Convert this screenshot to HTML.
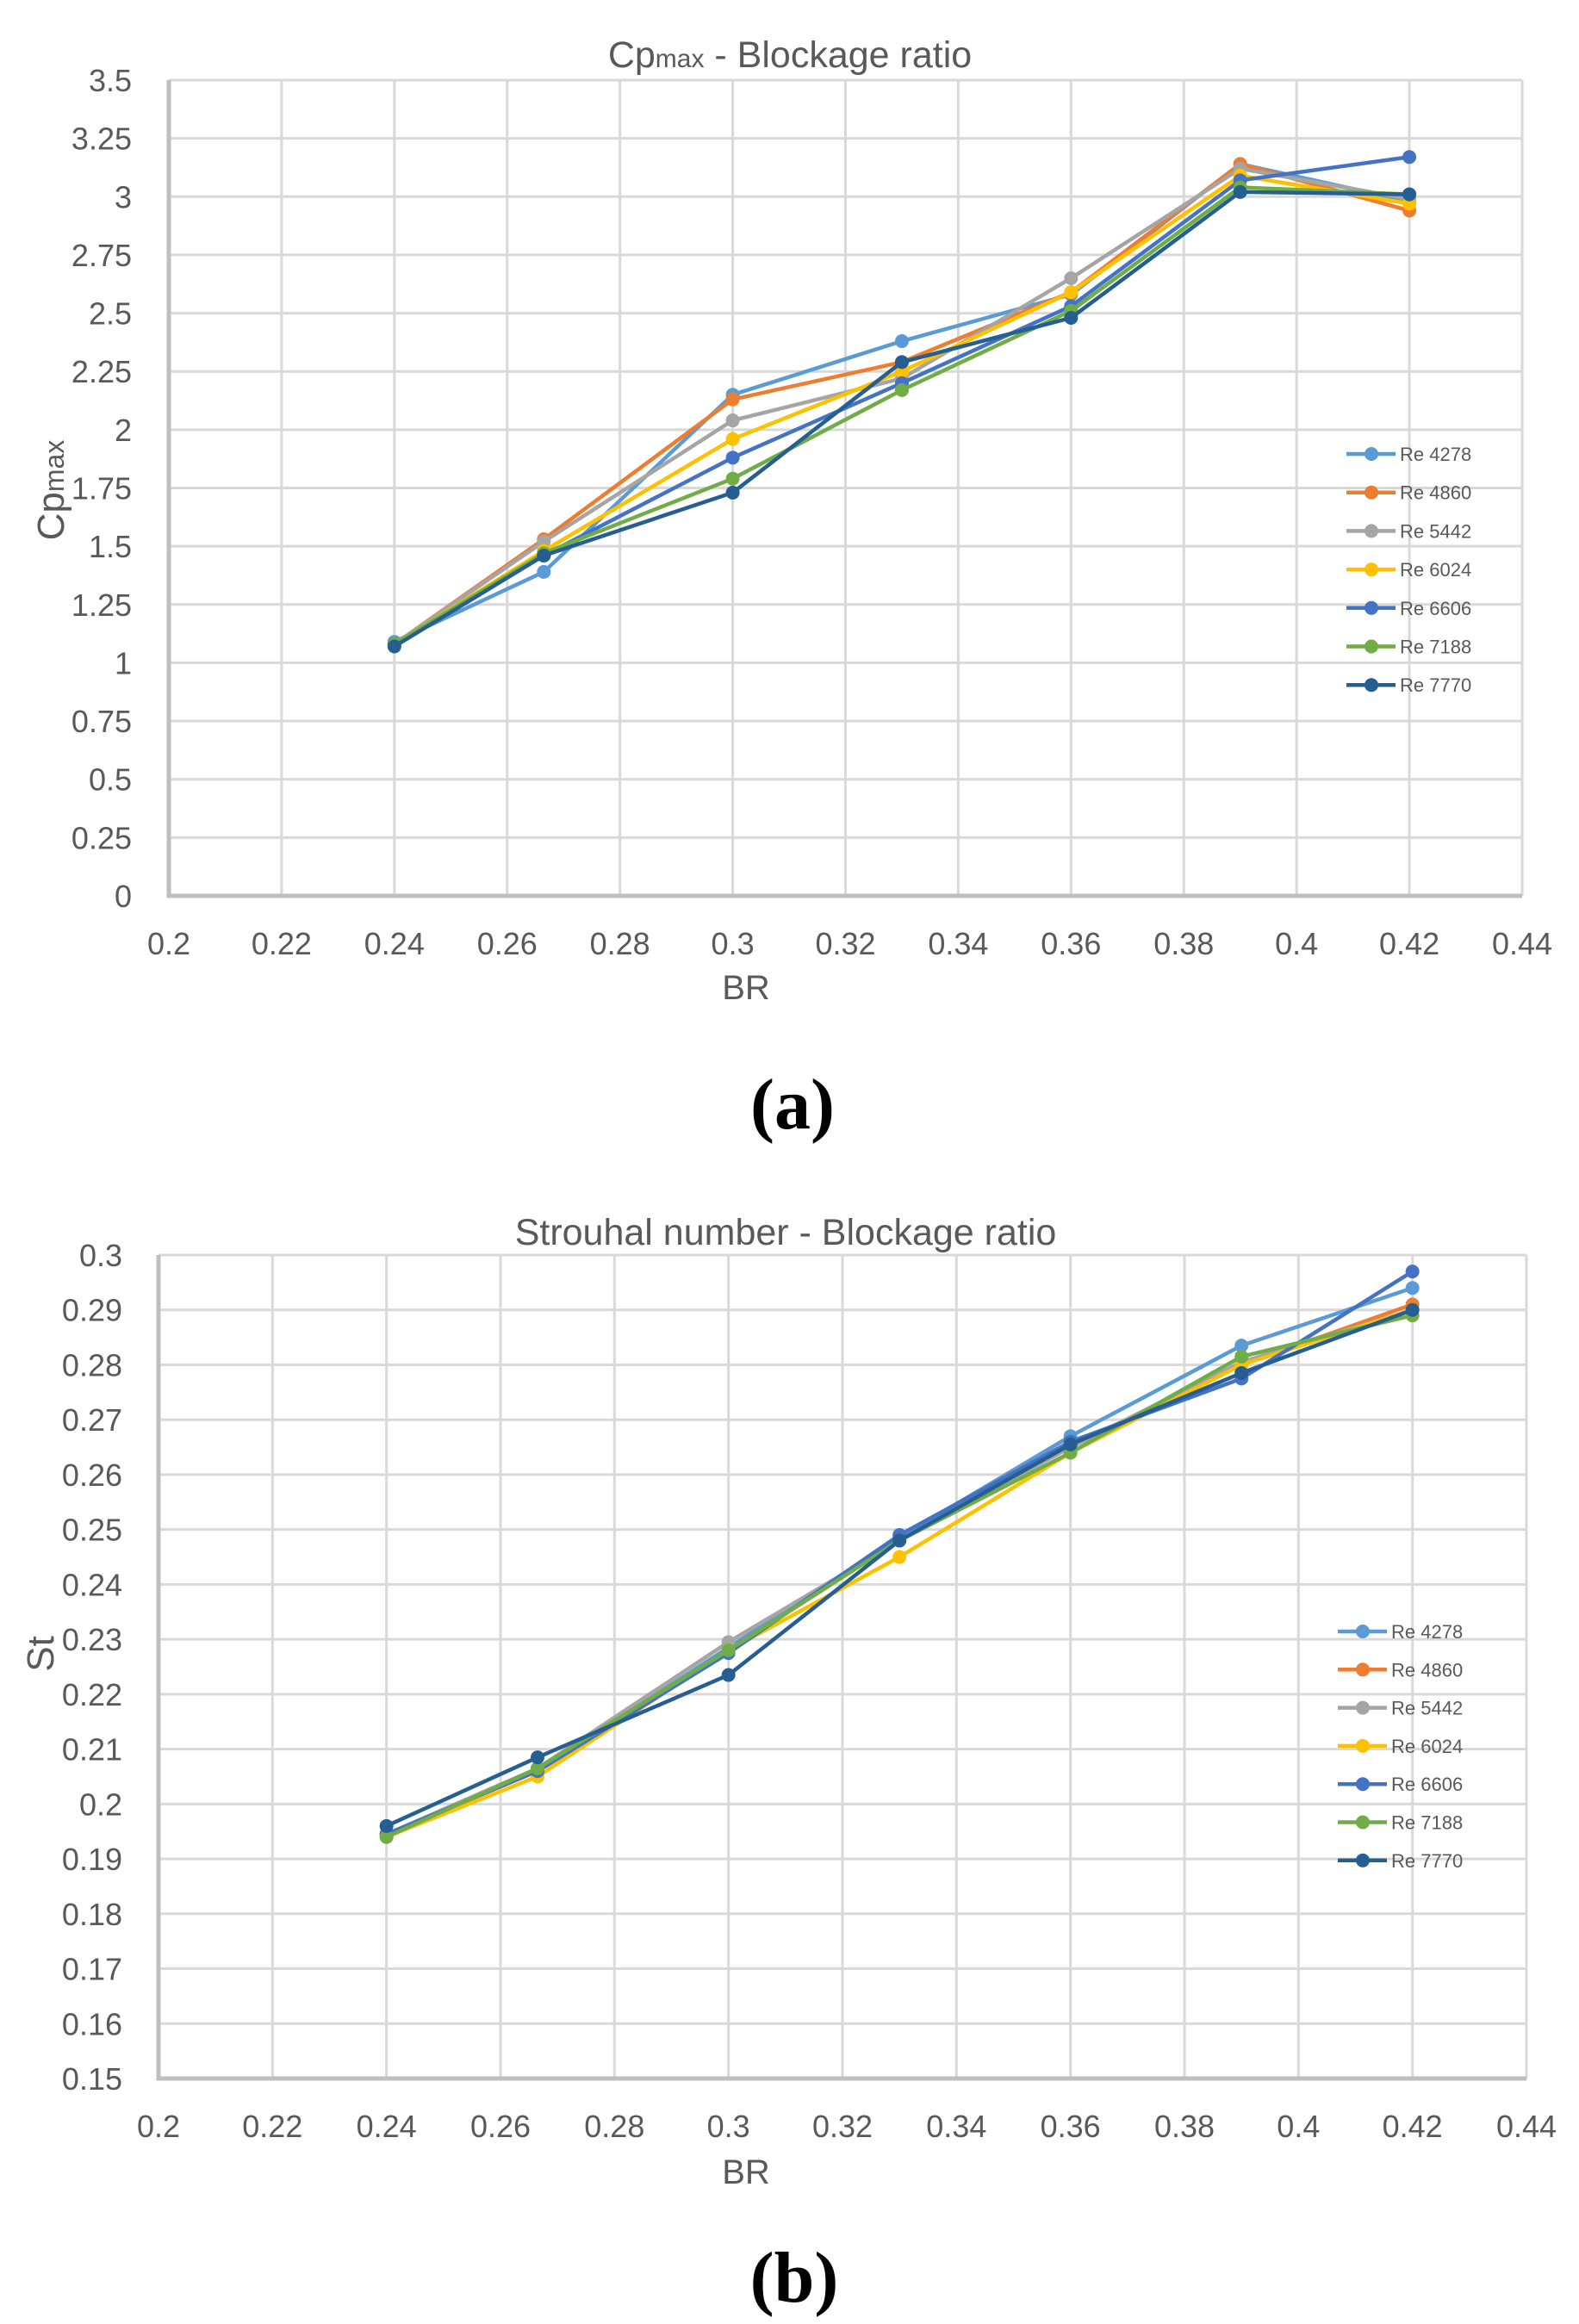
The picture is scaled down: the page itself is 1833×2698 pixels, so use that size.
<!DOCTYPE html>
<html><head><meta charset="utf-8"><style>
html,body{margin:0;padding:0;background:#fff;}
svg{display:block;}
text{font-family:"Liberation Sans",sans-serif;fill:#595959;}
</style></head><body>
<svg id="svg" width="1833" height="2698" viewBox="0 0 1833 2698" xmlns="http://www.w3.org/2000/svg">
<g id="chartA"></g>
<g id="chartB"></g>
<text x="920" y="1310" font-size="84" font-weight="bold" text-anchor="middle" style="font-family:'Liberation Serif',serif;fill:#000">(a)</text>
<text x="922" y="2672" font-size="84" font-weight="bold" text-anchor="middle" style="font-family:'Liberation Serif',serif;fill:#000">(b)</text>
</svg>
<script>
const xValues = [0.24, 0.2665, 0.3, 0.33, 0.36, 0.39, 0.42];
const seriesNames = ["Re 4278","Re 4860","Re 5442","Re 6024","Re 6606","Re 7188","Re 7770"];
const seriesColors = ["#5B9BD5","#ED7D31","#A5A5A5","#FFC000","#4472C4","#70AD47","#255E91"];
const xTicks = ["0.2","0.22","0.24","0.26","0.28","0.3","0.32","0.34","0.36","0.38","0.4","0.42","0.44"];
const cpTicks = ["0","0.25","0.5","0.75","1","1.25","1.5","1.75","2","2.25","2.5","2.75","3","3.25","3.5"];
const stTicks = ["0.15","0.16","0.17","0.18","0.19","0.2","0.21","0.22","0.23","0.24","0.25","0.26","0.27","0.28","0.29","0.3"];
const cp4278 = [1.09,1.39,2.15,2.38,2.58,3.14,2.98];
const cp4860 = [1.08,1.53,2.13,2.29,2.59,3.14,2.94];
const cp5442 = [1.08,1.52,2.04,2.22,2.65,3.12,2.99];
const cp6024 = [1.08,1.48,1.96,2.25,2.59,3.09,2.97];
const cp6606 = [1.08,1.46,1.88,2.20,2.53,3.07,3.17];
const cp7188 = [1.08,1.47,1.79,2.17,2.51,3.04,3.01];
const cp7770 = [1.07,1.46,1.73,2.29,2.48,3.02,3.01];
const st4278 = [0.1945,0.206,0.2285,0.2485,0.267,0.2835,0.294];
const st4860 = [0.1945,0.206,0.228,0.248,0.265,0.280,0.291];
const st5442 = [0.1945,0.2065,0.2295,0.248,0.265,0.2805,0.290];
const st6024 = [0.194,0.205,0.228,0.245,0.264,0.280,0.290];
const st6606 = [0.1945,0.206,0.2275,0.249,0.266,0.2775,0.297];
const st7188 = [0.194,0.2065,0.228,0.248,0.264,0.2815,0.289];
const st7770 = [0.196,0.2085,0.2235,0.248,0.2655,0.2785,0.290];
const cpSeries = [cp4278,cp4860,cp5442,cp6024,cp6606,cp7188,cp7770];
const stSeries = [st4278,st4860,st5442,st6024,st6606,st7188,st7770];

const NS="http://www.w3.org/2000/svg";
function mk(parent,tag,attrs,txt){const e=document.createElementNS(NS,tag);for(const k in attrs)e.setAttribute(k,attrs[k]);if(txt!==undefined)e.textContent=txt;parent.appendChild(e);return e;}

function drawChart(g,cfg){
  const sx=v=>cfg.L+(v-0.2)/0.24*(cfg.R-cfg.L);
  const sy=v=>cfg.B-(v-cfg.ymin)/(cfg.ymax-cfg.ymin)*(cfg.B-cfg.T);
  xTicks.forEach((t,i)=>{const x=sx(parseFloat(t));
    const l=mk(g,'line',{x1:x,x2:x,y1:cfg.T,y2:cfg.B,stroke:'#d9d9d9','stroke-width':3});
    
    
    const tx=mk(g,'text',{x:x,y:cfg.xlabY,'font-size':36,'text-anchor':'middle'},t);
    
    
  });
  cfg.yTicks.forEach(t=>{const y=sy(parseFloat(t));
    const l=mk(g,'line',{x1:cfg.L,x2:cfg.R,y1:y,y2:y,stroke:'#d9d9d9','stroke-width':3});
    
    
    const tx=mk(g,'text',{x:cfg.ylabX,y:y+13,'font-size':36,'text-anchor':'end'},t);
    
    
  });
  const ax=mk(g,'path',{d:`M${cfg.L},${cfg.T} L${cfg.L},${cfg.B} L${cfg.R},${cfg.B}`,fill:'none',stroke:'#bfbfbf','stroke-width':5});
  
  
  cfg.series.forEach((s,i)=>{
    const sg=mk(g,'g',{});
    
    
    const d=s.map((v,j)=>(j?'L':'M')+sx(xValues[j])+','+sy(v)).join(' ');
    mk(sg,'path',{d:d,fill:'none',stroke:seriesColors[i],'stroke-width':4.5,'stroke-linejoin':'round'});
    s.forEach((v,j)=>{const c=mk(sg,'circle',{cx:sx(xValues[j]),cy:sy(v),r:8,fill:seriesColors[i]});
      
      });
  });
  seriesNames.forEach((n,i)=>{
    const y=cfg.legY+i*cfg.legDy;
    const lg=mk(g,'g',{});
    
    
    mk(lg,'line',{x1:cfg.legX,x2:cfg.legX+57,y1:y,y2:y,stroke:seriesColors[i],'stroke-width':4.5});
    mk(lg,'circle',{cx:cfg.legX+29,cy:y,r:8,fill:seriesColors[i]});
    mk(lg,'text',{x:cfg.legX+62,y:y+8,'font-size':22},n);
  });
}
drawChart(document.getElementById('chartA'),{L:196,R:1767,T:93,B:1040,ymin:0,ymax:3.5,yTicks:cpTicks,series:cpSeries,xlabY:1108,ylabX:153,legX:1563,legY:527,legDy:44.7});
drawChart(document.getElementById('chartB'),{L:184,R:1772,T:1457,B:2413,ymin:0.15,ymax:0.3,yTicks:stTicks,series:stSeries,xlabY:2481,ylabX:142,legX:1553,legY:1894,legDy:44.3});
</script>
<svg style="position:absolute;left:0;top:0" width="1833" height="2698">
<text x="917" y="78" font-size="43" text-anchor="middle">Cp<tspan font-size="30">max</tspan> - Blockage ratio</text>
<text x="866" y="1160" font-size="40" text-anchor="middle">BR</text>
<text transform="translate(74,569) rotate(-90)" font-size="44" text-anchor="middle">Cp<tspan font-size="32">max</tspan></text>
<text x="912" y="1445" font-size="43" text-anchor="middle">Strouhal number - Blockage ratio</text>
<text x="866" y="2535" font-size="40" text-anchor="middle">BR</text>
<text transform="translate(62,1920) rotate(-90)" font-size="44" text-anchor="middle">St</text>
</svg>
</body></html>
